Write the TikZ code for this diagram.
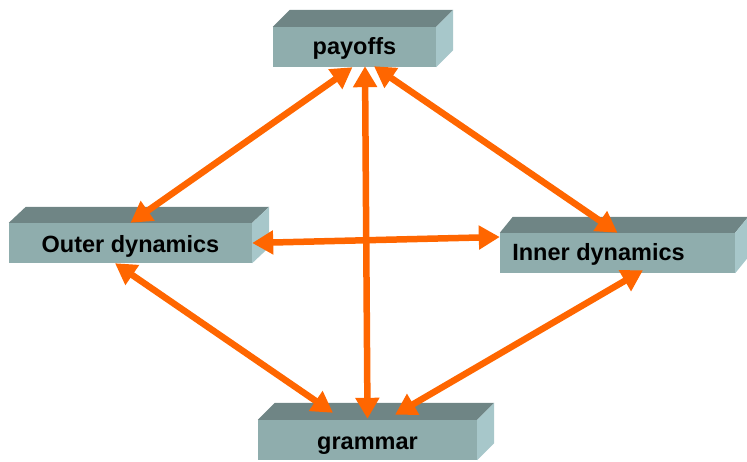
\documentclass[tikz,border=0pt]{standalone}
\usepackage{fontspec}
\setmainfont{Liberation Sans}
\usetikzlibrary{arrows.meta}

\definecolor{slabfront}{HTML}{8FADAD}
\definecolor{slabtop}{HTML}{6F8585}
\definecolor{slabside}{HTML}{A7C7CA}
\definecolor{linkorange}{HTML}{FF6600}

\tikzset{
  slab/.style={rectangle, fill=slabfront, inner sep=0pt, minimum height=40pt},
  slabtext/.style={inner sep=0pt, anchor=base, font=\fontsize{23.5}{28}\bfseries\selectfont, text=black},
  link/.style={draw=linkorange, line width=6.5pt,
    {Triangle[length=21pt,width=23pt]}-{Triangle[length=21pt,width=23pt]}},
}

% top and right faces of a slab: node name, depth x, depth y
\newcommand\slabfaces[3]{%
  \fill[slabtop] (#1.north west) -- ++(#2,-#3) -- ([shift={(#2,-#3)}]#1.north east) -- (#1.north east) -- cycle;
  \fill[slabside] (#1.north east) -- ++(#2,-#3) -- ([shift={(#2,-#3)}]#1.south east) -- (#1.south east) -- cycle;
}

\begin{document}
\begin{tikzpicture}[x=1pt,y=-1pt]
  \useasboundingbox (0,0) rectangle (747,462);

  % slabs
  \node[slab, minimum width=163pt] (payoffs) at (354.5,47) {};
  \slabfaces{payoffs}{17}{17}
  \node[slab, minimum width=243pt] (outer) at (130.5,243) {};
  \slabfaces{outer}{17}{16}
  \node[slab, minimum width=235pt] (inner) at (617.5,253) {};
  \slabfaces{inner}{13}{16}
  \node[slab, minimum width=219pt] (grammar) at (367.5,440) {};
  \slabfaces{grammar}{17}{17}

  % labels, set on a baseline below each slab's centre
  \node[slabtext] (payoffslabel) at ([yshift=-8pt]payoffs.center) {payoffs};
  \node[slabtext] (outerlabel) at ([yshift=-9.5pt]outer.center) {Outer dynamics};
  \node[slabtext] (innerlabel) at ([xshift=-19pt,yshift=-7.5pt]inner.center) {Inner dynamics};
  \node[slabtext] (grammarlabel) at ([yshift=-9pt]grammar.center) {grammar};

  % links
  \draw[link] ([xshift=-2pt]payoffs.south) -- (outer.north);
  \draw[link] ([xshift=10.5pt,yshift=1pt]payoffs.south) -- ([yshift=1pt]grammar.north);
  \draw[link] ([xshift=19.5pt,yshift=1pt]payoffs.south) -- (inner.north);
  \draw[link] (outer.east) -- ([yshift=16pt]inner.west);
  \draw[link] ([xshift=-15.5pt]outer.south) -- ([xshift=-34.5pt,yshift=7pt]grammar.north);
  \draw[link] ([xshift=25.5pt,yshift=3pt]inner.south) -- ([xshift=27.5pt,yshift=5pt]grammar.north);
\end{tikzpicture}
\end{document}
